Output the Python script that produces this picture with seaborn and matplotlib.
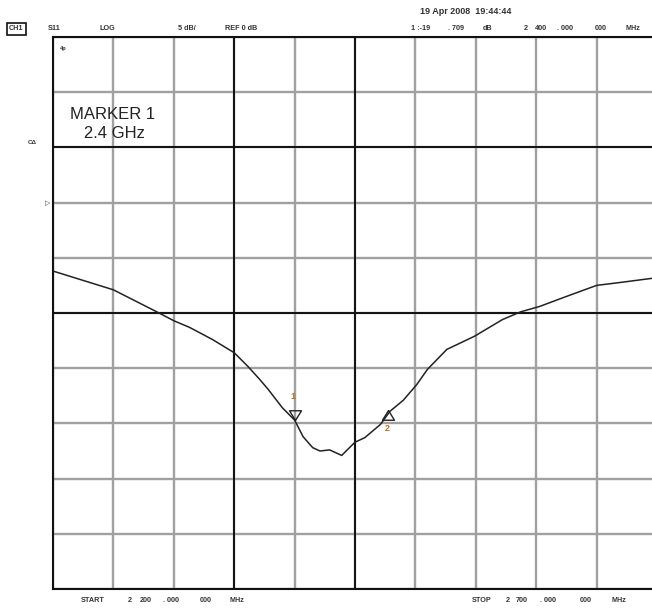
import numpy as np
import pandas as pd
import matplotlib
matplotlib.use("Agg")
import matplotlib.pyplot as plt
import seaborn as sns

frecuencia_mhz = [2200, 2250, 2286, 2300, 2313, 2332, 2350, 2361, 2371, 2378,
                  2390, 2400, 2407, 2415, 2421, 2429, 2439, 2450, 2458, 2471,
                  2479, 2490, 2501, 2510, 2526, 2549, 2572, 2587, 2603, 2625,
                  2650, 2672, 2700]
s11_db = [-6.2, -7.9, -9.9, -10.7, -11.3, -12.4, -13.6, -14.8, -16.0, -16.9,
          -18.6, -19.7, -21.2, -22.2, -22.5, -22.4, -22.9, -21.7, -21.3, -20.1,
          -18.9, -17.9, -16.5, -15.1, -13.3, -12.1, -10.6, -9.9, -9.4, -8.5,
          -7.5, -7.2, -6.8]

marcador_f = [2400, 2477]
marcador_db = [-19.709, -18.8]
marcador_txt = ["1", "2"]

x_ticks = list(range(2200, 2701, 50))
y_ticks = list(range(-35, 16, 5))
x_oscuras = [2350, 2450]
y_oscuras = [5, -10]

df = pd.DataFrame({"f": frecuencia_mhz, "s11": s11_db})

sns.set_style("white")
plt.rcParams["font.family"] = ["Liberation Sans", "DejaVu Sans"]

W, H = 652, 609
fig = plt.figure(figsize=(W / 100, H / 100), dpi=100)
ax = fig.add_axes([53 / W, 1 - 589 / H, 604 / W, 552 / H])

# Rejilla
for xv in x_ticks:
    ax.axvline(xv, color="#a0a0a0", lw=1.7, zorder=1)
for yv in y_ticks:
    ax.axhline(yv, color="#a0a0a0", lw=1.7, zorder=1)
for xv in x_oscuras:
    ax.axvline(xv, color="#111111", lw=1.4, zorder=2)
for yv in y_oscuras:
    ax.axhline(yv, color="#111111", lw=1.4, zorder=2)

sns.lineplot(data=df, x="f", y="s11", ax=ax, color="#222222", lw=1.1, zorder=5)

# Marcadores
tri_abajo = [(0, 0), (-0.8, 1.3), (0.8, 1.3), (0, 0)]
tri_arriba = [(0, 0), (-0.8, -1.3), (0.8, -1.3), (0, 0)]
ax.plot(marcador_f[0], marcador_db[0], marker=tri_abajo, ms=14,
        mfc="none", mec="#222222", mew=1.0, zorder=6)
ax.plot(marcador_f[1], marcador_db[1], marker=tri_arriba, ms=14,
        mfc="none", mec="#222222", mew=1.0, zorder=6)
ax.annotate(marcador_txt[0], (marcador_f[0], marcador_db[0]), xytext=(-1, 17),
            textcoords="offset points", ha="center", va="center",
            fontsize=6.5, color="#c07020", fontweight="bold")
ax.annotate(marcador_txt[1], (marcador_f[1], marcador_db[1]), xytext=(0, -13),
            textcoords="offset points", ha="center", va="center",
            fontsize=6.5, color="#c07020", fontweight="bold")

ax.set_xlim(2200, 2700)
ax.set_ylim(-35, 15)
ax.set_xticks([])
ax.set_yticks([])
ax.set_xlabel("")
ax.set_ylabel("")
for s in ax.spines.values():
    s.set_color("#111111")
    s.set_linewidth(1.5)

ax.text(2214, 8.0, "MARKER 1", fontsize=12, color="#222222", va="center")
ax.text(2214, 6.3, "   2.4 GHz", fontsize=12, color="#222222", va="center")
ax.text(2206, 14.0, "4p", fontsize=4, color="#333333", fontweight="bold", va="center")


def txt(x, y, s, size=5.2, **kw):
    fig.text(x / W, 1 - y / H, s, fontsize=size, fontweight="bold",
             color="#333333", va="center", ha="left", **kw)


# Cabecera
fig.text(9 / W, 1 - 29 / H, "CH1", fontsize=5.2, fontweight="bold", color="#333333",
         va="center", ha="left",
         bbox=dict(boxstyle="square,pad=0.3", fc="white", ec="#111111", lw=1.2))
txt(48, 29, "S11")
txt(100, 29, "LOG")
txt(178, 29, "5 dB/")
txt(225, 29, "REF 0 dB")
txt(420, 11, "19 Apr 2008  19:44:44", size=6.5)
txt(411, 29, "1 :-19")
txt(448, 29, ". 709")
txt(483, 29, "dB")
txt(524, 29, "2")
txt(535, 29, "400")
txt(557, 29, ". 000")
txt(595, 29, "000")
txt(625, 29, "MHz")

# Lado izquierdo
txt(28, 143, "C\u0394", size=4.5)
txt(45, 203, "\u25b7", size=5, family=["DejaVu Sans"])

# Pie
txt(81, 601, "START")
txt(128, 601, "2")
txt(140, 601, "200")
txt(163, 601, ". 000")
txt(200, 601, "000")
txt(230, 601, "MHz")
txt(472, 601, "STOP")
txt(506, 601, "2")
txt(516, 601, "700")
txt(540, 601, ". 000")
txt(580, 601, "000")
txt(612, 601, "MHz")

fig.savefig("out.png", dpi=100)
